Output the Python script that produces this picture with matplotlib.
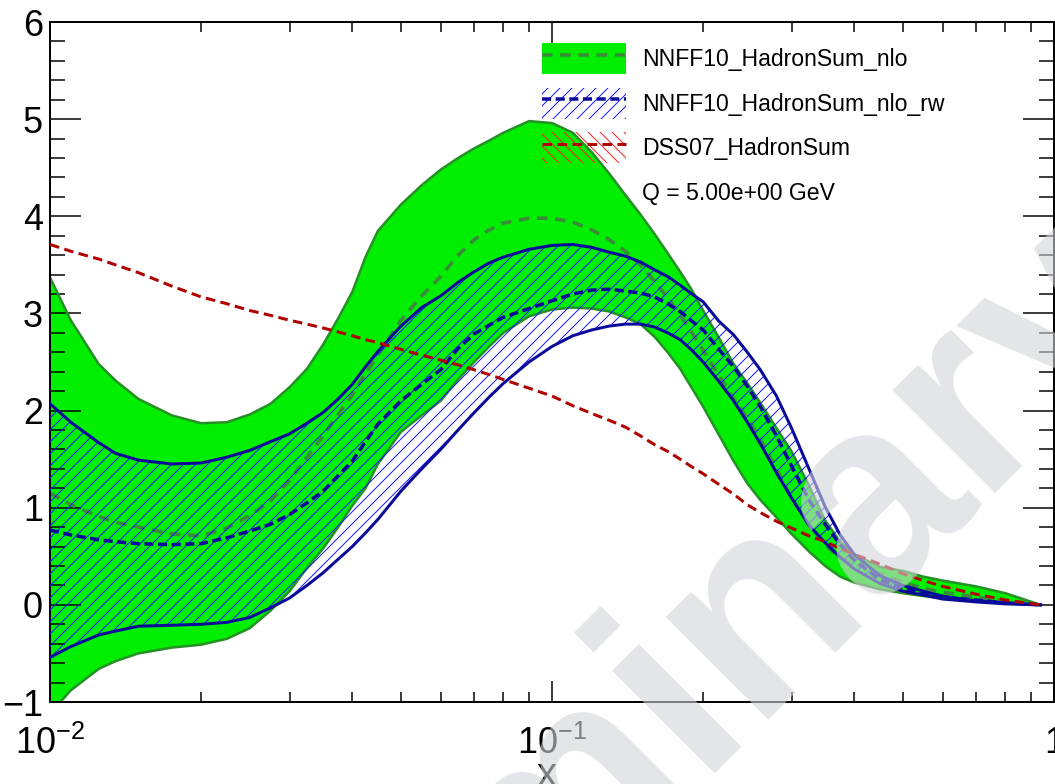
import math
import matplotlib
matplotlib.use("Agg")
import matplotlib.pyplot as plt
from matplotlib.patches import Patch
from matplotlib.lines import Line2D
from matplotlib.ticker import MultipleLocator, NullFormatter, FixedLocator, FuncFormatter

plt.rcParams['font.family'] = ['Liberation Sans', 'DejaVu Sans']
plt.rcParams['hatch.linewidth'] = 1.0

# x grid (log) and curves
x = [0.01, 0.011, 0.0125, 0.0135, 0.015,
     0.0175, 0.02, 0.0225, 0.025, 0.0275,
     0.03, 0.0325, 0.035, 0.0375, 0.04,
     0.0425, 0.045, 0.05, 0.055, 0.06,
     0.065, 0.07, 0.075, 0.08, 0.09,
     0.1, 0.11, 0.12, 0.13, 0.14,
     0.15, 0.16, 0.17, 0.18, 0.19,
     0.2, 0.215, 0.23, 0.245, 0.26,
     0.28, 0.3, 0.325, 0.35, 0.375,
     0.4, 0.45, 0.5, 0.55, 0.6,
     0.7, 0.8, 0.94]

# NNFF10_HadronSum_nlo band (upper / central / lower)
nlo_up = [3.37, 2.93, 2.48, 2.31, 2.12,
          1.95, 1.87, 1.88, 1.96, 2.07,
          2.24, 2.43, 2.68, 2.95, 3.22,
          3.58, 3.85, 4.12, 4.32, 4.48,
          4.60, 4.70, 4.78, 4.86, 4.98,
          4.96, 4.86, 4.66, 4.44, 4.22,
          4.02, 3.82, 3.62, 3.43, 3.24,
          3.03, 2.75, 2.48, 2.28, 2.08,
          1.82, 1.58, 1.23, 0.87, 0.65,
          0.52, 0.39, 0.35, 0.29, 0.25,
          0.19, 0.12, 0.0]
nlo_cv = [1.15, 1.03, 0.91, 0.85, 0.80,
          0.73, 0.71, 0.79, 0.92, 1.07,
          1.28, 1.52, 1.74, 1.96, 2.16,
          2.38, 2.57, 2.93, 3.18, 3.38,
          3.60, 3.76, 3.86, 3.93, 3.98,
          3.98, 3.94, 3.86, 3.76, 3.64,
          3.50, 3.33, 3.16, 2.98, 2.80,
          2.62, 2.36, 2.12, 1.92, 1.70,
          1.40, 1.10, 0.82, 0.62, 0.48,
          0.42, 0.32, 0.23, 0.17, 0.13,
          0.08, 0.04, 0.0]
nlo_lo = [-1.12, -0.88, -0.66, -0.58, -0.50,
          -0.44, -0.41, -0.35, -0.24, -0.06,
          0.14, 0.38, 0.58, 0.80, 1.02,
          1.20, 1.45, 1.78, 1.95, 2.10,
          2.32, 2.50, 2.66, 2.80, 2.97,
          3.04, 3.06, 3.05, 3.02, 2.96,
          2.89, 2.76, 2.60, 2.43, 2.23,
          2.04, 1.75, 1.48, 1.25, 1.08,
          0.90, 0.73, 0.55, 0.40, 0.29,
          0.23, 0.16, 0.12, 0.09, 0.07,
          0.05, 0.03, 0.0]

# NNFF10_HadronSum_nlo_rw band (upper / central / lower)
rw_up = [2.07, 1.88, 1.67, 1.56, 1.49,
         1.45, 1.46, 1.52, 1.59, 1.68,
         1.76, 1.87, 1.98, 2.12, 2.27,
         2.45, 2.61, 2.87, 3.06, 3.18,
         3.32, 3.43, 3.52, 3.58, 3.66,
         3.70, 3.71, 3.68, 3.63, 3.59,
         3.53, 3.45, 3.38, 3.29, 3.20,
         3.12, 2.92, 2.78, 2.60, 2.42,
         2.15, 1.82, 1.40, 1.01, 0.72,
         0.52, 0.30, 0.20, 0.14, 0.09,
         0.04, 0.02, 0.0]
rw_cv = [0.77, 0.72, 0.67, 0.65, 0.63,
         0.62, 0.63, 0.69, 0.76, 0.83,
         0.93, 1.05, 1.17, 1.33, 1.48,
         1.68, 1.86, 2.10, 2.27, 2.42,
         2.64, 2.79, 2.88, 2.96, 3.05,
         3.13, 3.20, 3.24, 3.25, 3.23,
         3.21, 3.17, 3.10, 3.02, 2.92,
         2.83, 2.63, 2.45, 2.25, 2.04,
         1.74, 1.43, 1.08, 0.83, 0.62,
         0.46, 0.26, 0.17, 0.12, 0.08,
         0.05, 0.02, 0.0]
rw_lo = [-0.54, -0.43, -0.31, -0.27, -0.22,
         -0.21, -0.20, -0.18, -0.13, -0.03,
         0.07, 0.20, 0.33, 0.47, 0.60,
         0.74, 0.88, 1.17, 1.40, 1.60,
         1.80, 1.98, 2.14, 2.28, 2.50,
         2.66, 2.77, 2.83, 2.87, 2.89,
         2.89, 2.86, 2.80, 2.73, 2.62,
         2.50, 2.30, 2.10, 1.88, 1.66,
         1.36, 1.10, 0.82, 0.64, 0.49,
         0.37, 0.22, 0.14, 0.10, 0.06,
         0.03, 0.01, 0.0]

# DSS07_HadronSum
dss = [3.71, 3.64, 3.56, 3.50, 3.42,
       3.28, 3.17, 3.10, 3.03, 2.98,
       2.93, 2.89, 2.85, 2.81, 2.77,
       2.73, 2.70, 2.63, 2.57, 2.52,
       2.47, 2.42, 2.37, 2.32, 2.23,
       2.15, 2.05, 1.97, 1.90, 1.83,
       1.74, 1.65, 1.58, 1.50, 1.42,
       1.35, 1.24, 1.14, 1.03, 0.95,
       0.86, 0.79, 0.71, 0.65, 0.58,
       0.52, 0.42, 0.32, 0.25, 0.19,
       0.11, 0.05, 0.0]

labels = ['NNFF10_HadronSum_nlo', 'NNFF10_HadronSum_nlo_rw', 'DSS07_HadronSum',
          'Q = 5.00e+00 GeV']

green = '#00ee00'
green_edge = '#259025'
green_dash = '#3a8a3a'
hatch_blue = '#1818ff'
navy = '#0a0a9a'
red = '#b00000'

W, H = 1055, 784
fig = plt.figure(figsize=(W / 72, H / 72), dpi=72)
ax = fig.add_axes([50 / W, 1 - 702 / H, 1004 / W, 680 / H])

ax.fill_between(x, nlo_lo, nlo_up, facecolor=green, edgecolor='none', zorder=1)
ax.plot(x, nlo_up, color=green_edge, lw=2.5, zorder=2)
ax.plot(x, nlo_lo, color=green_edge, lw=2.5, zorder=2)
ax.plot(x, nlo_cv, color=green_dash, lw=3.5, dashes=(3.0, 2.2), zorder=2)

ax.fill_between(x, rw_lo, rw_up, facecolor='none', edgecolor=hatch_blue, hatch='//',
                linewidth=0, zorder=3)
ax.plot(x, rw_up, color=navy, lw=3, zorder=4)
ax.plot(x, rw_lo, color=navy, lw=3, zorder=4)
ax.plot(x, rw_cv, color=navy, lw=3.5, dashes=(2.6, 1.3), zorder=4)

ax.plot(x, dss, color=red, lw=3, dashes=(3.2, 1.8), zorder=5)

ax.set_xscale('log')
ax.set_xlim(0.01, 1)
ax.set_ylim(-1, 6)


def xfmt(v, pos):
    if abs(v - 1) < 1e-9:
        return '1'
    return r'$\mathregular{10^{%d}}$' % round(math.log10(v))


ax.xaxis.set_major_locator(FixedLocator([0.01, 0.1, 1]))
ax.xaxis.set_major_formatter(FuncFormatter(xfmt))
ax.xaxis.set_minor_formatter(NullFormatter())
ax.yaxis.set_major_locator(MultipleLocator(1))
ax.yaxis.set_minor_locator(MultipleLocator(0.2))

ax.tick_params(axis='x', which='major', direction='in', length=21, width=1.5,
               top=True, labelsize=36, pad=24)
ax.tick_params(axis='x', which='minor', direction='in', length=10, width=1.5, top=True)
ax.tick_params(axis='y', which='major', direction='in', length=31, width=1.5,
               right=True, labelsize=36, pad=7)
ax.tick_params(axis='y', which='minor', direction='in', length=15, width=1.5, right=True)
for s in ax.spines.values():
    s.set_linewidth(2)

ax.set_xlabel('x', fontsize=40)
ax.xaxis.set_label_coords(0.495, -0.08)

h1 = (Patch(facecolor=green, edgecolor='none'),
      Line2D([], [], color=green_dash, lw=3.5, dashes=(3.0, 2.2)))
h2 = (Patch(facecolor='none', edgecolor=hatch_blue, hatch='//', linewidth=0),
      Line2D([], [], color=navy, lw=3.5, dashes=(2.6, 1.3)))
h3 = (Patch(facecolor='none', edgecolor='#ff2020', hatch='\\\\', linewidth=0),
      Line2D([], [], color=red, lw=3, dashes=(3.2, 1.8)))
h4 = Line2D([], [], linestyle='none')
ax.legend([h1, h2, h3, h4], labels, loc='upper left',
          bbox_to_anchor=((542 - 50) / 1004, (702 - 43) / 680),
          frameon=False, fontsize=23, handlelength=84 / 23, handleheight=1.7,
          handletextpad=16 / 23, labelspacing=0.59, borderpad=0, borderaxespad=0)

fig.text(582 / W, 1 - 788 / H, 'Preliminary', fontsize=275, fontweight='bold',
         rotation=45, rotation_mode='anchor', ha='center', va='center',
         color='#d2d4da', alpha=0.6, zorder=100)

fig.savefig('out.png', dpi=72)
